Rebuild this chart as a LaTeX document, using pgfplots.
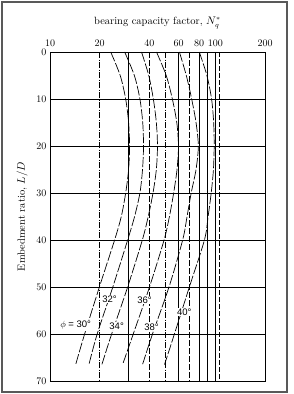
\documentclass[border=0pt]{standalone}
\usepackage{fontspec}
\usepackage{pgfplots}
\usepackage{pgfplotstable}
\pgfplotsset{compat=1.18}
\newfontfamily\labfont{Liberation Sans}

% L/D versus N_q* for each friction angle
\pgfplotstableread{
LD N
0 23.3
5 26.6
10 28.7
15 29.9
20 30.3
25 29.9
30 28.7
35 27.0
40 24.6
50 19.9
60 16.2
66.5 14.3
}\phithirty
\pgfplotstableread{
LD N
0 28.3
5 32.4
10 35.0
15 36.4
20 36.8
25 36.3
30 35.0
35 32.5
40 29.5
50 24.0
60 19.3
66.5 17.2
}\phithirtytwo
\pgfplotstableread{
LD N
0 35.8
5 39.6
10 42.2
15 44.0
20 44.7
25 44.0
30 42.0
35 39.3
40 36.2
50 29.5
60 23.6
66.5 20.6
}\phithirtyfour
\pgfplotstableread{
LD N
0 44.1
5 50.5
10 55.0
15 58.5
20 59.9
25 58.7
30 56.0
35 52.8
40 49.0
50 40.0
60 31.9
66.5 27.5
}\phithirtysix
\pgfplotstableread{
LD N
0 60.7
5 66.8
10 72.0
15 76.5
20 79.0
25 76.5
30 71.5
35 67.5
40 63.5
50 52.5
60 41.7
66.5 36.3
}\phithirtyeight
\pgfplotstableread{
LD N
0 80.1
5 89.0
10 95.0
15 97.8
20 98.5
25 97.5
30 94.5
35 90.5
40 86.0
50 69.7
60 56.6
66.5 49.3
}\phiforty

\begin{document}
\begin{tikzpicture}
\path[use as bounding box] (-50pt,-13pt) rectangle (243pt,381pt);
\draw[black!65, line width=1.5pt] (-48pt,-11pt) rectangle (237pt,379pt);
\begin{axis}[
  at={(0pt,0pt)}, anchor=south west,
  scale only axis, width=215pt, height=329pt,
  xmode=log, xmin=10, xmax=200, ymin=0, ymax=70, y dir=reverse,
  xtick={10,20,40,60,80,100,200},
  xticklabels={10,20,40,60,80,100,200},
  minor xtick={},
  ytick={0,10,...,70},
  xticklabel pos=upper,
  major tick length=0pt,
  tick label style={font=\fontsize{10}{12}\selectfont},
  xticklabel style={yshift=1.5pt},
  axis line style={line width=0.6pt},
  xlabel={bearing capacity factor, $N_q^{*}$},
  ylabel={Embedment ratio, $L/D$},
  label style={font=\fontsize{10.5}{12}\selectfont},
  xlabel style={at={(axis description cs:0.5,1.088)}, anchor=center},
  ylabel style={at={(axis description cs:-0.130,0.5)}, anchor=center},
  clip=false,
  phicurve/.style={black, line width=0.7pt, smooth, no marks, dash pattern=on 10pt off 2pt},
]
% horizontal grid
\draw[line width=0.8pt] (axis cs:10,10) -- (axis cs:200,10);
\draw[line width=0.8pt] (axis cs:10,20) -- (axis cs:200,20);
\draw[line width=0.8pt] (axis cs:10,30) -- (axis cs:200,30);
\draw[line width=0.6pt] (axis cs:10,40) -- (axis cs:200,40);
\draw[line width=0.6pt] (axis cs:10,50) -- (axis cs:200,50);
\draw[line width=0.8pt] (axis cs:10,60) -- (axis cs:200,60);
% vertical grid
\draw[line width=0.5pt, dash pattern=on 6pt off 1.5pt on 1pt off 1.5pt] (axis cs:20,0) -- (axis cs:20,70);
\draw[line width=1.2pt] (axis cs:30,0) -- (axis cs:30,70);
\draw[line width=0.5pt, dash pattern=on 6pt off 2pt] (axis cs:40,0) -- (axis cs:40,70);
\draw[line width=0.5pt, dash pattern=on 6pt off 1.5pt on 1pt off 1.5pt] (axis cs:50,0) -- (axis cs:50,70);
\draw[line width=0.6pt] (axis cs:60,0) -- (axis cs:60,70);
\draw[line width=0.5pt, dash pattern=on 6pt off 2pt] (axis cs:70,0) -- (axis cs:70,70);
\draw[line width=0.6pt] (axis cs:80,0) -- (axis cs:80,70);
\draw[line width=1.1pt] (axis cs:90,0) -- (axis cs:90,70);
\draw[line width=0.8pt] (axis cs:100,0) -- (axis cs:100,70);
\draw[line width=0.4pt, dash pattern=on 5pt off 2pt] (axis cs:105,0) -- (axis cs:105,70);
% curves
\addplot[phicurve] table[x=N, y=LD] {\phithirty};
\addplot[phicurve] table[x=N, y=LD] {\phithirtytwo};
\addplot[phicurve] table[x=N, y=LD] {\phithirtyfour};
\addplot[phicurve] table[x=N, y=LD] {\phithirtysix};
\addplot[phicurve] table[x=N, y=LD] {\phithirtyeight};
\addplot[phicurve] table[x=N, y=LD] {\phiforty};
% labels
\begin{scope}[every node/.style={font=\labfont\fontsize{9.5}{11}\selectfont, fill=white, inner sep=0.6pt}]
\node at (axis cs:14.3,58.1) {$\phi$ = 30°};
\node at (axis cs:22.9,52.6) {32°};
\node at (axis cs:25.3,58.3) {34°};
\node at (axis cs:37.3,52.8) {36°};
\node at (axis cs:41.1,58.5) {38°};
\node at (axis cs:65.0,55.3) {40°};
\end{scope}
\end{axis}
\end{tikzpicture}
\end{document}
